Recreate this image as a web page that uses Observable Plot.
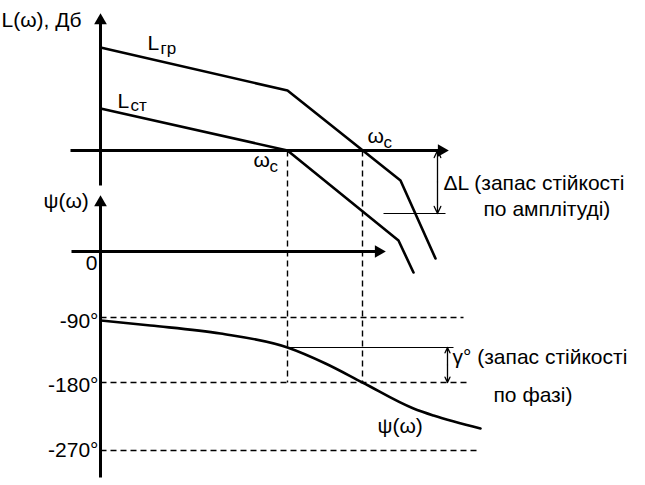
<!DOCTYPE html>
<html><head><meta charset="utf-8">
<script src="https://cdn.jsdelivr.net/npm/d3@7"></script>
<script src="https://cdn.jsdelivr.net/npm/@observablehq/plot@0.6"></script>
<style>body{margin:0;background:#fff} svg{display:block}</style>
</head><body><div id="chart"></div>
<script>
// Diagram (sheet) coordinates: x grows to the right, y grows downward.
const lGr = [[100,47],[287,90],[400,180],[435,258]];      // L_гр
const lSt = [[100,108],[287,150],[398,240],[413,272]];    // L_ст
const psi = [[100,320],[150,325],[220,333],[287,347],[325,363],[362,382],[413,408],[433,415],[480,428]]; // ψ(ω)
const axisLines = [
  {x1:100, y1:185, x2:100, y2:20},   // L axis
  {x1:70,  y1:150, x2:440, y2:150},  // ω axis (L panel)
  {x1:100, y1:477, x2:100, y2:202},  // ψ axis
  {x1:71,  y1:251, x2:378, y2:251}   // ω axis (ψ panel)
];
const arrowHeads = [{x:100,y:20,rot:0},{x:441,y:150,rot:90},{x:100,y:202,rot:0},{x:378,y:251,rot:90}];
const phaseLevels = [{label:"-90°", y:317, ty:321, x2:463},{label:"-180°", y:382, ty:385, x2:467},{label:"-270°", y:450, ty:450, x2:478}];
const zeroLabel = [{label:"0", x:91, y:263}];
const crossFreqs = [{x:287},{x:362}];
const cutLevel = 150, phaseFloor = 382;
const marginLines = [{x1:383,x2:445,y:213},{x1:287,x2:453,y:347}];
const marginArrows = [{x:437,y1:150,y2:213},{x:447,y1:347,y2:382}];
const mainLabels = [
  {text:"L(ω), Дб", x:1, y:20},
  {text:"ψ(ω)", x:43, y:201},
  {text:"ΔL (запас стійкості", x:443, y:183},
  {text:"по амплітуді)", x:483, y:209},
  {text:"γ° (запас стійкості", x:452, y:357},
  {text:"по фазі)", x:493, y:395},
  {text:"ψ(ω)", x:377, y:426}
];
const symLabels = [
  {base:"L", sub:"гр", x:147, y:43, subx:160, suby:48},
  {base:"L", sub:"ст", x:117, y:101, subx:130, suby:105},
  {base:"ω", sub:"c", x:253, y:160, subx:269, suby:166},
  {base:"ω", sub:"c", x:367, y:136, subx:383, suby:142}
];

const X = d => d[0], Y = d => d[1];
const ink = "#000";
const chart = Plot.plot({
  width: 645, height: 485, margin: 0,
  style: {fontFamily: "'Liberation Sans', Arial, sans-serif", background: "#fff", color: ink},
  x: {domain: [0, 645], axis: null},
  y: {domain: [485, 0], axis: null},
  marks: [
    // phase levels (dashed)
    Plot.link(phaseLevels, {x1: 100, x2: "x2", y1: "y", y2: "y", stroke: ink, strokeWidth: 1.4, strokeDasharray: "6,4"}),
    // crossover verticals (dashed)
    Plot.link(crossFreqs, {x1: "x", x2: "x", y1: cutLevel, y2: phaseFloor, stroke: ink, strokeWidth: 1.4, strokeDasharray: "6,4"}),
    // margin reference lines
    Plot.link(marginLines, {x1: "x1", x2: "x2", y1: "y", y2: "y", stroke: ink, strokeWidth: 1}),
    // margin double arrows
    Plot.arrow(marginArrows, {x1: "x", x2: "x", y1: d => (d.y1 + d.y2) / 2, y2: "y1", stroke: ink, strokeWidth: 1.3, headLength: 9, headAngle: 50}),
    Plot.arrow(marginArrows, {x1: "x", x2: "x", y1: d => (d.y1 + d.y2) / 2, y2: "y2", stroke: ink, strokeWidth: 1.3, headLength: 9, headAngle: 50}),
    // axes
    Plot.link(axisLines, {x1: "x1", y1: "y1", x2: "x2", y2: "y2", stroke: ink, strokeWidth: 3}),
    Plot.dot(arrowHeads, {x: "x", y: "y", rotate: "rot", symbol: "triangle", r: 4.7, fill: ink, stroke: "none"}),
    // curves
    Plot.line(lGr, {x: X, y: Y, stroke: ink, strokeWidth: 2.6}),
    Plot.line(lSt, {x: X, y: Y, stroke: ink, strokeWidth: 2.6}),
    Plot.line(psi, {x: X, y: Y, stroke: ink, strokeWidth: 2.6, curve: "monotone-x"}),
    // labels
    Plot.text(mainLabels, {x: "x", y: "y", text: "text", textAnchor: "start", fontSize: 21, fill: ink}),
    Plot.text(phaseLevels, {x: 98, y: "ty", text: "label", textAnchor: "end", fontSize: 21, fill: ink}),
    Plot.text(zeroLabel, {x: "x", y: "y", text: "label", fontSize: 21, fill: ink}),
    Plot.text(symLabels, {x: "x", y: "y", text: "base", textAnchor: "start", fontSize: 21, fill: ink}),
    Plot.text(symLabels, {x: "subx", y: "suby", text: "sub", textAnchor: "start", fontSize: 17, fill: ink})
  ]
});
document.getElementById("chart").append(chart);
</script>
</body></html>
